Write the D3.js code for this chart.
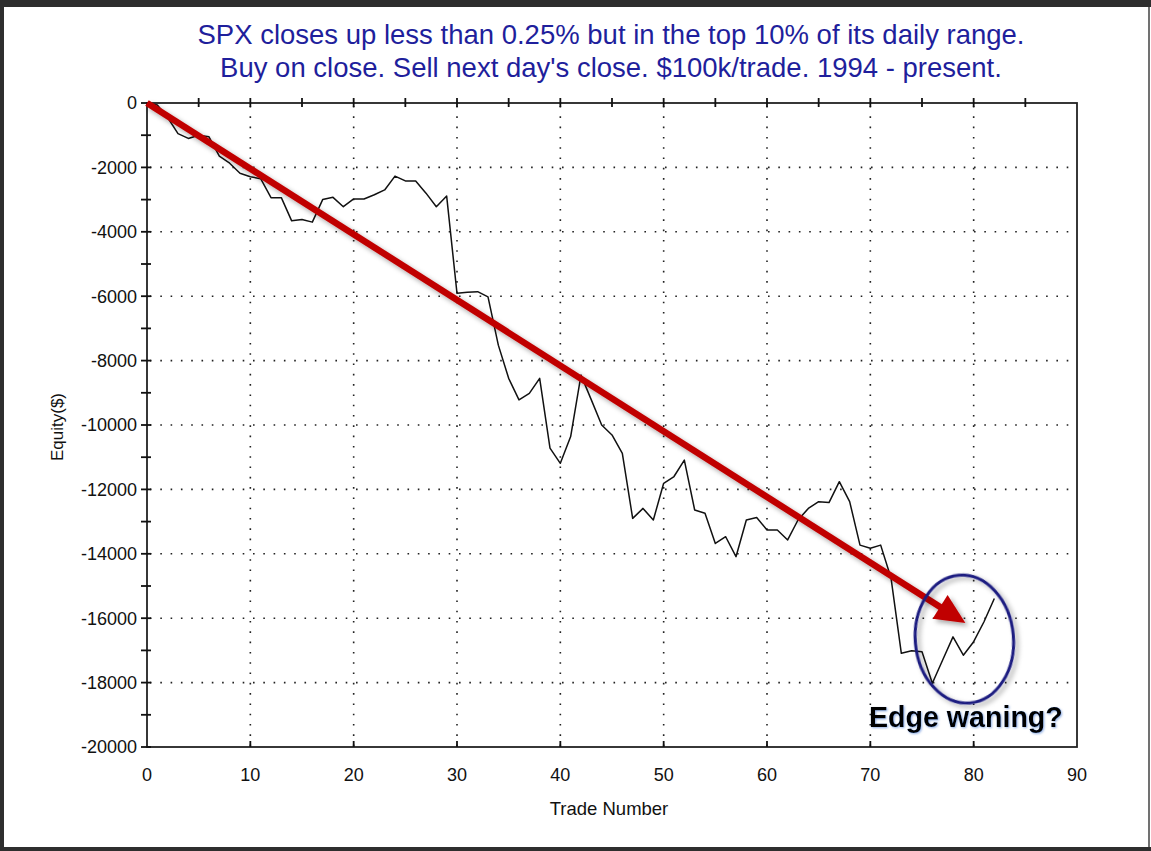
<!DOCTYPE html>
<html>
<head>
<meta charset="utf-8">
<script src="https://cdn.jsdelivr.net/npm/d3@7"></script>
<style>
  html, body { margin: 0; padding: 0; background: #fff; }
  svg { display: block; }
  text { font-family: "Liberation Sans", Arial, sans-serif; }
</style>
</head>
<body>
<div id="app"></div>
<script>
// title lines
const titleLines = [
  "SPX closes up less than 0.25% but in the top 10% of its daily range.",
  "Buy on close. Sell next day's close. $100k/trade. 1994 - present."
];

// equity after each trade (trade number = index)
const equity = [
  0, -60, -450, -950, -1100, -1000, -1050, -1650, -1870, -2180,
  -2290, -2350, -2940, -2940, -3660, -3620, -3700, -3000, -2930, -3220,
  -2980, -2980, -2850, -2700, -2270, -2420, -2420, -2800, -3220, -2890,
  -5910, -5880, -5860, -6020, -7520, -8550, -9220, -9020, -8550, -10720,
  -11190, -10360, -8450, -9220, -10000, -10310, -10880, -12900, -12590, -12950,
  -11810, -11600, -11090, -12640, -12740, -13680, -13470, -14090, -12950, -12870,
  -13260, -13260, -13570, -12950, -12590, -12380, -12410, -11760, -12380, -13730,
  -13830, -13730, -14750, -17090, -17010, -17040, -18020, -17300, -16580, -17150,
  -16730, -16110, -15390
];

const xTicks = [0, 10, 20, 30, 40, 50, 60, 70, 80, 90];
const xMinorTicks = [5, 15, 25, 35, 45, 55, 65, 75, 85];
const yTicks = [0, -2000, -4000, -6000, -8000, -10000, -12000, -14000, -16000, -18000, -20000];
const yMinorTicks = [-1000, -3000, -5000, -7000, -9000, -11000, -13000, -15000, -17000, -19000];

// annotation (data units)
const arrowFrom = [0, 0];
const arrowTo = [79.2, -16150];
const circleCenter = [79.1, -16650];
const circleRadius = [4.75, 1990];
const noteText = "Edge waning?";

const W = 1151, H = 851;
const x = d3.scaleLinear().domain([0, 90]).range([147, 1077]);
const y = d3.scaleLinear().domain([-20000, 0]).range([747, 103]);

const svg = d3.select('#app').append('svg')
  .attr('width', W)
  .attr('height', H);

const defs = svg.append('defs');
const shadow = defs.append('filter').attr('id', 'shadow')
  .attr('x', '-20%').attr('y', '-20%').attr('width', '140%').attr('height', '140%');
shadow.append('feDropShadow')
  .attr('dx', 3).attr('dy', 3).attr('stdDeviation', 2.5)
  .attr('flood-color', '#000').attr('flood-opacity', 0.35);

const glow = defs.append('filter').attr('id', 'glow')
  .attr('x', '-10%').attr('y', '-30%').attr('width', '120%').attr('height', '160%');
glow.append('feDropShadow')
  .attr('dx', 1).attr('dy', 1).attr('stdDeviation', 1)
  .attr('flood-color', '#4a7ad0').attr('flood-opacity', 0.6);

// outer frame
svg.append('rect').attr('width', W).attr('height', H).attr('fill', '#2e2e2e');
svg.append('rect').attr('x', 4).attr('y', 7).attr('width', 1144).attr('height', 840).attr('fill', '#fff');
svg.append('line').attr('x1', 1149).attr('x2', 1149).attr('y1', 7).attr('y2', 847)
  .attr('stroke', '#888').attr('stroke-width', 1.5);
svg.append('rect').attr('x', 1150).attr('y', 7).attr('width', 1).attr('height', 840).attr('fill', '#fff');

// title
svg.append('g').selectAll('text')
  .data(titleLines)
  .join('text')
  .attr('x', 611)
  .attr('y', (d, i) => 44 + i * 33)
  .attr('text-anchor', 'middle')
  .attr('font-size', 27.5)
  .attr('fill', '#1f1f9c')
  .text(d => d);

// grid
const grid = svg.append('g')
  .attr('stroke', '#222')
  .attr('stroke-width', 1.6)
  .attr('stroke-dasharray', '1.6 8.7');
grid.selectAll('.vg')
  .data(xTicks.filter(d => d > 0 && d < 90))
  .join('line')
  .attr('x1', d => x(d)).attr('x2', d => x(d))
  .attr('y1', y(0) + 3).attr('y2', y(-20000));
grid.selectAll('.hg')
  .data(yTicks.filter(d => d < 0 && d > -20000))
  .join('line')
  .attr('y1', d => y(d)).attr('y2', d => y(d))
  .attr('x1', x(0) + 3).attr('x2', x(90));

// plot frame
svg.append('rect')
  .attr('x', x(0)).attr('y', y(0))
  .attr('width', x(90) - x(0)).attr('height', y(-20000) - y(0))
  .attr('fill', 'none').attr('stroke', '#222').attr('stroke-width', 1.8);

const ticks = svg.append('g').attr('stroke', '#111').attr('stroke-width', 1.8);
// top ticks, crossing the frame
ticks.selectAll('.tt')
  .data(xTicks.concat(xMinorTicks).filter(d => d > 0 && d < 90))
  .join('line')
  .attr('x1', d => x(d)).attr('x2', d => x(d))
  .attr('y1', y(0) - 5).attr('y2', y(0) + 4);
// bottom ticks, inward
ticks.selectAll('.bt')
  .data(xTicks.filter(d => d > 0 && d < 90))
  .join('line')
  .attr('x1', d => x(d)).attr('x2', d => x(d))
  .attr('y1', y(-20000)).attr('y2', y(-20000) - 6);
// left ticks
ticks.selectAll('.lt')
  .data(yTicks.concat(yMinorTicks))
  .join('line')
  .attr('y1', d => y(d)).attr('y2', d => y(d))
  .attr('x1', x(0) - 6).attr('x2', x(0) + 4);

// tick labels
svg.append('g').selectAll('text')
  .data(xTicks)
  .join('text')
  .attr('x', d => x(d))
  .attr('y', 781)
  .attr('text-anchor', 'middle')
  .attr('font-size', 18)
  .attr('fill', '#111')
  .text(d => d);

svg.append('g').selectAll('text')
  .data(yTicks)
  .join('text')
  .attr('x', x(0) - 10)
  .attr('y', d => y(d))
  .attr('dy', '0.35em')
  .attr('text-anchor', 'end')
  .attr('font-size', 18)
  .attr('fill', '#111')
  .text(d => d);

// axis titles
svg.append('text')
  .attr('x', 609).attr('y', 815)
  .attr('text-anchor', 'middle')
  .attr('font-size', 18.5)
  .attr('fill', '#111')
  .text('Trade Number');

svg.append('text')
  .attr('transform', 'translate(63,427) rotate(-90)')
  .attr('text-anchor', 'middle')
  .attr('font-size', 17)
  .attr('fill', '#111')
  .text('Equity($)');

// equity line
const line = d3.line()
  .x((d, i) => x(i))
  .y(d => y(d));

svg.append('path')
  .datum(equity)
  .attr('d', line)
  .attr('fill', 'none')
  .attr('stroke', '#111')
  .attr('stroke-width', 1.5)
  .attr('stroke-linejoin', 'round');

// red arrow
const ax0 = x(arrowFrom[0]), ay0 = y(arrowFrom[1]);
const ax1 = x(arrowTo[0]), ay1 = y(arrowTo[1]);
const ang = Math.atan2(ay1 - ay0, ax1 - ax0);
const headLen = 30, headHalf = 14;
const bx = ax1 - headLen * Math.cos(ang), by = ay1 - headLen * Math.sin(ang);
const arrow = svg.append('g').attr('filter', 'url(#shadow)');
arrow.append('line')
  .attr('x1', ax0).attr('y1', ay0)
  .attr('x2', bx + 2 * Math.cos(ang)).attr('y2', by + 2 * Math.sin(ang))
  .attr('stroke', '#c00000')
  .attr('stroke-width', 6.5);
arrow.append('path')
  .attr('d', d3.line()([
    [ax1, ay1],
    [bx + headHalf * Math.sin(ang), by - headHalf * Math.cos(ang)],
    [bx - headHalf * Math.sin(ang), by + headHalf * Math.cos(ang)]
  ]) + 'Z')
  .attr('fill', '#c00000');

// circle around the end
const cx = x(circleCenter[0]), cy = y(circleCenter[1]);
svg.append('ellipse')
  .attr('cx', cx).attr('cy', cy)
  .attr('rx', x(circleRadius[0]) - x(0))
  .attr('ry', y(-circleRadius[1]) - y(0))
  .attr('transform', `rotate(-5,${cx},${cy})`)
  .attr('fill', 'none')
  .attr('stroke', '#1b1b80')
  .attr('stroke-width', 3)
  .attr('filter', 'url(#shadow)');

svg.append('text')
  .attr('x', 869).attr('y', 727)
  .attr('font-size', 28.6)
  .attr('font-weight', 'bold')
  .attr('fill', '#000')
  .attr('filter', 'url(#glow)')
  .text(noteText);
</script>
</body>
</html>
